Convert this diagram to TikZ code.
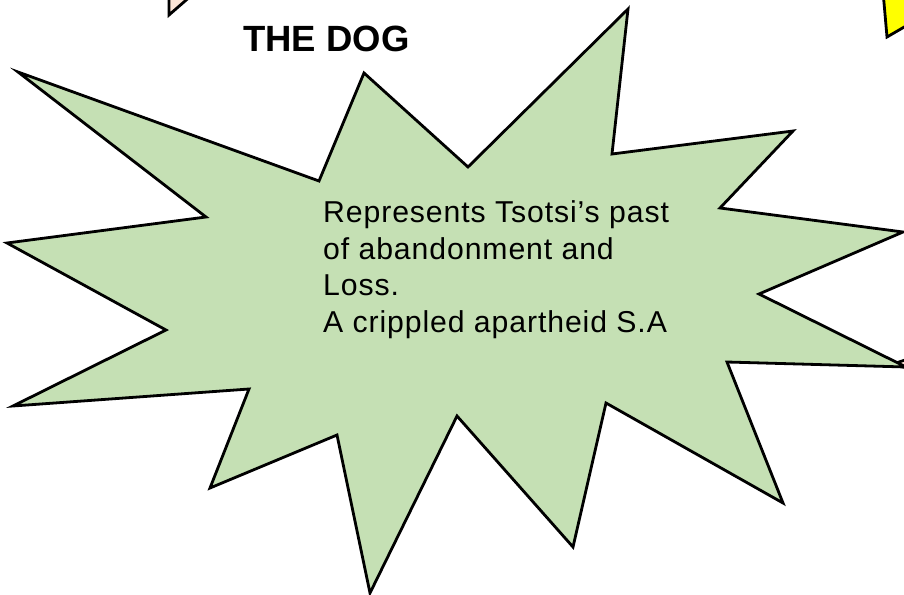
\documentclass[tikz,border=0pt]{standalone}
\usepackage{fontspec}
\setmainfont{Liberation Sans}
\newfontfamily\bodyfont[LetterSpace=3.0]{Liberation Sans}
\begin{document}
\begin{tikzpicture}[x=1pt,y=-1pt,
  outline/.style={draw=black,line width=2.8pt,line join=miter},
  burst/.style={outline,fill=starGreen},
  bodytext/.style={anchor=north west,inner sep=0pt,align=left,
    font=\bodyfont\fontsize{30.2}{36.5}\selectfont},
  titletext/.style={anchor=base west,inner sep=0pt,
    font=\fontsize{36.5}{40}\selectfont\bfseries}]
\definecolor{starGreen}{HTML}{C5E0B4}
\definecolor{peach}{HTML}{FBE5D6}
\definecolor{sunYellow}{HTML}{FFFF00}
\useasboundingbox (0,0) rectangle (904,594);
\clip (0,0) rectangle (904,594);
\fill[white] (0,0) rectangle (904,594);

% neighbouring shapes cut off by the page edge
\draw[outline,fill=peach] (169,-20) -- (169,15) -- (200,-12) -- cycle;
\draw[outline,fill=sunYellow] (882,-20) -- (887,37) -- (930,12) -- (930,-20) -- cycle;
\draw[outline,fill=peach] (920,355) -- (893,364) -- (920,372) -- cycle;

% the burst
\draw[burst] (18,72) -- (319,181) -- (364,73) -- (468,167) -- (628,9)
  -- (612,154) -- (793,131) -- (720,208) -- (903,232) -- (759,294)
  -- (906,367) -- (727,362) -- (783,503) -- (606,403) -- (573,547)
  -- (457,416) -- (370,593) -- (337,435) -- (210,488) -- (249,389)
  -- (13,406) -- (166,330) -- (7,243) -- (206,217) -- cycle;

\node[titletext] (title) at (243,52) {THE DOG};
\node[bodytext] (body) at (323,200.5) {Represents Tsotsi’s past\\
  of abandonment and\\ Loss.\\ A crippled apartheid S.A};
\end{tikzpicture}
\end{document}
